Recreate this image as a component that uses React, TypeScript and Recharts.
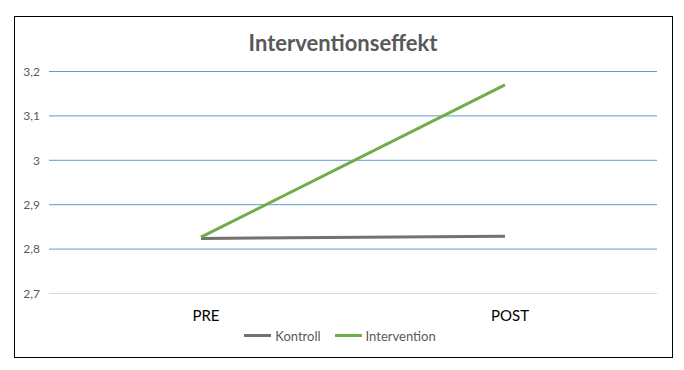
import { LineChart, Line, XAxis, YAxis, CartesianGrid, Legend } from 'recharts';

// Mittelwerte pre/post je Gruppe
const phases = ['PRE', 'POST'];
const kontroll = [2.824, 2.829];
const intervention = [2.827, 3.17];
const yTicks = [2.7, 2.8, 2.9, 3, 3.1, 3.2];
const seriesNames = ['Kontroll', 'Intervention'];
const seriesColors = ['#767171', '#70AD47'];

const data = phases.map((phase, i) => ({
  phase,
  Kontroll: kontroll[i],
  Intervention: intervention[i],
}));

const FONT = 'Lato, "Open Sans", sans-serif';

const fmt = (v: number) => String(v).replace('.', ',');

function LegendContent() {
  return (
    <div
      style={{
        display: 'flex',
        justifyContent: 'center',
        gap: 14,
        paddingLeft: 14,
        fontFamily: FONT,
        fontSize: 13,
        color: '#595959',
      }}
    >
      {seriesNames.map((name, i) => (
        <span key={name} style={{ display: 'flex', alignItems: 'center' }}>
          <span style={{ display: 'inline-block', width: 27, height: 3, background: seriesColors[i], marginRight: 4 }} />
          {name}
        </span>
      ))}
    </div>
  );
}

export default function App() {
  return (
    <div style={{ position: 'absolute', left: 0, top: 0, width: 684, height: 370, background: '#fff' }}>
      <div
        style={{
          position: 'absolute',
          left: 14,
          top: 16,
          width: 657,
          height: 340,
          border: '1.5px solid #000',
        }}
      />
      <div
        style={{
          position: 'absolute',
          left: 0,
          width: 686,
          top: 29,
          textAlign: 'center',
          fontFamily: FONT,
          fontWeight: 700,
          fontSize: 22,
          color: '#595959',
        }}
      >
        Interventionseffekt
      </div>
      <div style={{ position: 'absolute', left: 0, top: 0 }}>
        <LineChart width={684} height={370} data={data} margin={{ top: 71.5, right: 27, left: 9, bottom: 22.5 }}>
          <CartesianGrid
            horizontal
            vertical={false}
            horizontalValues={[2.8, 2.9, 3, 3.1, 3.2]}
            stroke="#5B9BD5"
            strokeWidth={1}
          />
          <XAxis
            dataKey="phase"
            padding={{ left: 152, right: 152 }}
            axisLine={{ stroke: '#D9D9D9' }}
            tickLine={false}
            tickSize={6}
            tickMargin={11}
            height={34}
            tick={{ fontSize: 15, fill: '#000', fontFamily: FONT, dx: 5 }}
          />
          <YAxis
            domain={[2.7, 3.2]}
            ticks={yTicks}
            width={40}
            axisLine={false}
            tickLine={false}
            tickMargin={3}
            tickFormatter={fmt}
            tick={{ fontSize: 12, fill: '#595959', fontFamily: FONT }}
          />
          <Legend verticalAlign="bottom" height={20} content={<LegendContent />} />
          <Line type="linear" dataKey="Kontroll" stroke={seriesColors[0]} strokeWidth={3} dot={false} isAnimationActive={false} />
          <Line type="linear" dataKey="Intervention" stroke={seriesColors[1]} strokeWidth={3} dot={false} isAnimationActive={false} />
        </LineChart>
      </div>
    </div>
  );
}
